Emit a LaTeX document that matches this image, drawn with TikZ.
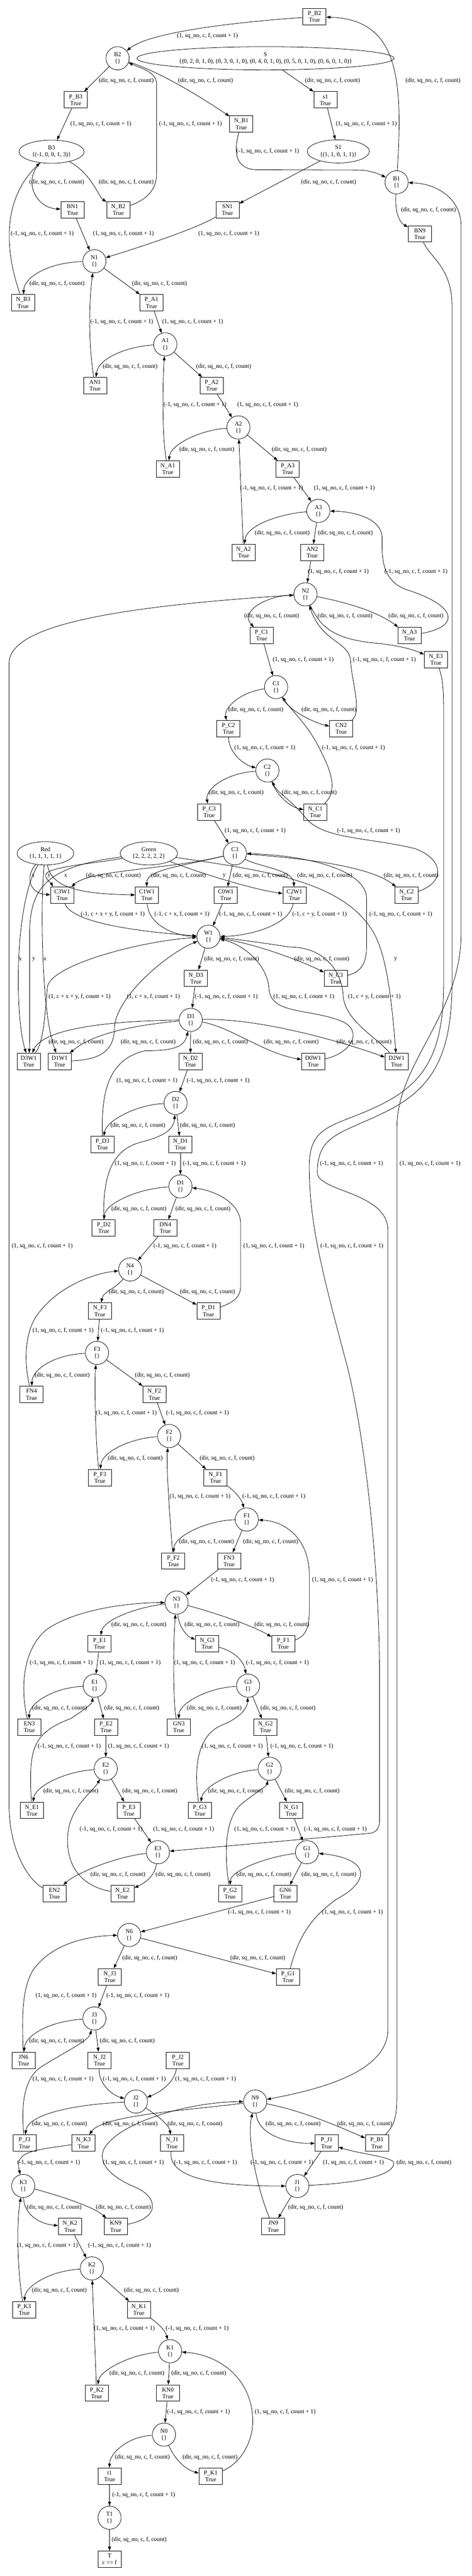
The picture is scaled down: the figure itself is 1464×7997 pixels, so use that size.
\documentclass[tikz,border=0pt]{standalone}
\usepackage{fontspec}
\setmainfont{Liberation Serif}
\usetikzlibrary{shapes.geometric,arrows.meta}
\newcommand\gvf{\fontsize{18.67pt}{21pt}\selectfont}
\newcommand\gvD{(dir, sq\_no, c, f, count)}
\newcommand\gvP{(1, sq\_no, c, f, count + 1)}
\newcommand\gvM{(-1, sq\_no, c, f, count + 1)}
\newcommand\gvXYM{(-1, c + x + y, f, count + 1)}
\newcommand\gvXM{(-1, c + x, f, count + 1)}
\newcommand\gvYM{(-1, c + y, f, count + 1)}
\newcommand\gvXYP{(1, c + x + y, f, count + 1)}
\newcommand\gvXP{(1, c + x, f, count + 1)}
\newcommand\gvYP{(1, c + y, f, count + 1)}
\newcommand\lbl[4]{\node[lb] (#1) at (#2,#3) {#4};}
\tikzset{
  pl/.style={ellipse, draw, line width=1.3pt, minimum width=72pt, minimum height=72pt, inner sep=0pt, align=center, font=\gvf},
  tr/.style={rectangle, draw, line width=1.3pt, minimum width=72pt, minimum height=51pt, inner sep=0pt, align=center, font=\gvf},
  lb/.style={inner sep=0pt, font=\gvf},
  ar/.style={line width=1.3pt, -{Triangle[length=13pt,width=9pt]}},
}
\begin{document}
\begin{tikzpicture}[x=1pt,y=-1pt]
\fill[white] (0,0) rectangle (1464,7997);
\useasboundingbox (0,0) rectangle (1464,7997);
% ---------------- places
\node[pl] (B2) at (365,181) {B2\\\{\}};
\node[pl,minimum width=798pt] (S) at (824,181) {S\\\{(0, 2, 0, 1, 0), (0, 3, 0, 1, 0), (0, 4, 0, 1, 0), (0, 5, 0, 1, 0), (0, 6, 0, 1, 0)\}};
\node[pl,minimum width=193pt] (S1) at (1050,470) {S1\\\{(1, 1, 0, 1, 1)\}};
\node[pl,minimum width=202pt] (B3) at (160,471) {B3\\\{(-1, 0, 0, 1, 3)\}};
\node[pl] (B1) at (1231,566) {B1\\\{\}};
\node[pl] (N1) at (293,811) {N1\\\{\}};
\node[pl] (A1) at (513,1069) {A1\\\{\}};
\node[pl] (A2) at (740,1327) {A2\\\{\}};
\node[pl] (A3) at (988,1586) {A3\\\{\}};
\node[pl] (N2) at (948,1845) {N2\\\{\}};
\node[pl] (C1) at (857,2133) {C1\\\{\}};
\node[pl] (C2) at (830,2392) {C2\\\{\}};
\node[pl] (C3) at (729,2649) {C3\\\{\}};
\node[pl,minimum width=176pt] (Red) at (141,2649) {Red\\\{1, 1, 1, 1, 1\}};
\node[pl,minimum width=178pt] (Green) at (462,2649) {Green\\\{2, 2, 2, 2, 2\}};
\node[pl] (W1) at (647,2908) {W1\\\{\}};
\node[pl] (D3) at (592,3166) {D3\\\{\}};
\node[pl] (D2) at (545,3424) {D2\\\{\}};
\node[pl] (D1) at (560,3683) {D1\\\{\}};
\node[pl] (N4) at (404,3941) {N4\\\{\}};
\node[pl] (F3) at (301,4200) {F3\\\{\}};
\node[pl] (F2) at (525,4458) {F2\\\{\}};
\node[pl] (F1) at (766,4717) {F1\\\{\}};
\node[pl] (N3) at (548,4975) {N3\\\{\}};
\node[pl] (E1) at (294,5233) {E1\\\{\}};
\node[pl] (G3) at (770,5233) {G3\\\{\}};
\node[pl] (E2) at (328,5491) {E2\\\{\}};
\node[pl] (G2) at (837,5491) {G2\\\{\}};
\node[pl] (E3) at (490,5750) {E3\\\{\}};
\node[pl] (G1) at (953,5750) {G1\\\{\}};
\node[pl] (N6) at (401,6007) {N6\\\{\}};
\node[pl] (J3) at (293,6266) {J3\\\{\}};
\node[pl] (J2) at (422,6524) {J2\\\{\}};
\node[pl] (N9) at (792,6524) {N9\\\{\}};
\node[pl] (K3) at (72,6786) {K3\\\{\}};
\node[pl] (J1) at (923,6786) {J1\\\{\}};
\node[pl] (K2) at (285,7042) {K2\\\{\}};
\node[pl] (K1) at (528,7299) {K1\\\{\}};
\node[pl] (N0) at (509,7558) {N0\\\{\}};
\node[pl] (T1) at (340,7816) {T1\\\{\}};
% ---------------- transitions
\node[tr] (PB2) at (976,52) {P\_B2\\True};
\node[tr] (PB3) at (235,310) {P\_B3\\True};
\node[tr] (s1) at (1010,310) {s1\\True};
\node[tr] (NB1) at (749,385) {N\_B1\\True};
\node[tr] (BN1) at (225,651) {BN1\\True};
\node[tr] (NB2) at (367,651) {N\_B2\\True};
\node[tr] (SN1) at (706,651) {SN1\\True};
\node[tr] (BN9) at (1303,726) {BN9\\True};
\node[tr] (NB3) at (72,940) {N\_B3\\True};
\node[tr] (PA1) at (470,940) {P\_A1\\True};
\node[tr] (AN1) at (295,1197) {AN1\\True};
\node[tr] (PA2) at (657,1197) {P\_A2\\True};
\node[tr] (NA1) at (521,1456) {N\_A1\\True};
\node[tr] (PA3) at (893,1456) {P\_A3\\True};
\node[tr] (NA2) at (756,1715) {N\_A2\\True};
\node[tr] (AN2) at (969,1715) {AN2\\True};
\node[tr] (PC1) at (812,1973) {P\_C1\\True};
\node[tr] (NA3) at (1271,1973) {N\_A3\\True};
\node[tr] (NE3) at (1353,2048) {N\_E3\\True};
\node[tr] (PC2) at (709,2262) {P\_C2\\True};
\node[tr] (CN2) at (1059,2262) {CN2\\True};
\node[tr] (PC3) at (649,2521) {P\_C3\\True};
\node[tr] (NC1) at (979,2521) {N\_C1\\True};
\node[tr] (C3W1) at (193,2779) {C3W1\\True};
\node[tr] (C1W1) at (456,2779) {C1W1\\True};
\node[tr] (C0W1) at (701,2779) {C0W1\\True};
\node[tr] (C2W1) at (914,2779) {C2W1\\True};
\node[tr] (NC2) at (1262,2779) {N\_C2\\True};
\node[tr] (ND3) at (608,3037) {N\_D3\\True};
\node[tr] (NC3) at (1042,3037) {N\_C3\\True};
\node[tr] (D3W1) at (89,3295) {D3W1\\True};
\node[tr] (D1W1) at (185,3295) {D1W1\\True};
\node[tr] (ND2) at (591,3295) {N\_D2\\True};
\node[tr] (D0W1) at (972,3295) {D0W1\\True};
\node[tr] (D2W1) at (1231,3295) {D2W1\\True};
\node[tr] (PD3) at (318,3553) {P\_D3\\True};
\node[tr] (ND1) at (560,3553) {N\_D1\\True};
\node[tr] (PD2) at (322,3812) {P\_D2\\True};
\node[tr] (DN4) at (513,3812) {DN4\\True};
\node[tr] (NF3) at (310,4070) {N\_F3\\True};
\node[tr] (PD1) at (647,4070) {P\_D1\\True};
\node[tr] (FN4) at (98,4329) {FN4\\True};
\node[tr] (NF2) at (479,4329) {N\_F2\\True};
\node[tr] (PF3) at (310,4587) {P\_F3\\True};
\node[tr] (NF1) at (669,4587) {N\_F1\\True};
\node[tr] (PF2) at (538,4846) {P\_F2\\True};
\node[tr] (FN3) at (711,4846) {FN3\\True};
\node[tr] (PE1) at (309,5103) {P\_E1\\True};
\node[tr] (NG3) at (643,5103) {N\_G3\\True};
\node[tr] (PF1) at (879,5103) {P\_F1\\True};
\node[tr] (EN3) at (91,5362) {EN3\\True};
\node[tr] (PE2) at (329,5362) {P\_E2\\True};
\node[tr] (GN3) at (555,5362) {GN3\\True};
\node[tr] (NG2) at (824,5362) {N\_G2\\True};
\node[tr] (NE1) at (99,5620) {N\_E1\\True};
\node[tr] (PE3) at (400,5620) {P\_E3\\True};
\node[tr] (PG3) at (620,5620) {P\_G3\\True};
\node[tr] (NG1) at (904,5620) {N\_G1\\True};
\node[tr] (EN2) at (169,5878) {EN2\\True};
\node[tr] (NE2) at (380,5878) {N\_E2\\True};
\node[tr] (PG2) at (714,5878) {P\_G2\\True};
\node[tr] (GN6) at (886,5878) {GN6\\True};
\node[tr] (NJ3) at (341,6137) {N\_J3\\True};
\node[tr] (PG1) at (894,6137) {P\_G1\\True};
\node[tr] (JN6) at (73,6396) {JN6\\True};
\node[tr] (NJ2) at (309,6396) {N\_J2\\True};
\node[tr] (PJ2) at (552,6396) {P\_J2\\True};
\node[tr] (PJ3) at (76,6653) {P\_J3\\True};
\node[tr] (NK3) at (259,6653) {N\_K3\\True};
\node[tr] (NJ1) at (534,6653) {N\_J1\\True};
\node[tr] (PJ1) at (1014,6653) {P\_J1\\True};
\node[tr] (PB1) at (1170,6653) {P\_B1\\True};
\node[tr] (NK2) at (217,6912) {N\_K2\\True};
\node[tr] (KN9) at (359,6912) {KN9\\True};
\node[tr] (JN9) at (848,6912) {JN9\\True};
\node[tr] (PK3) at (75,7170) {P\_K3\\True};
\node[tr] (NK1) at (431,7170) {N\_K1\\True};
\node[tr] (PK2) at (300,7429) {P\_K2\\True};
\node[tr] (KN0) at (521,7429) {KN0\\True};
\node[tr] (t1) at (340,7687) {t1\\True};
\node[tr] (PK1) at (654,7687) {P\_K1\\True};
\node[tr] (T) at (340,7945) {T\\c == f};
% ---------------- arcs: top
\draw[ar] (PB2) .. controls (780,65) and (470,95) .. (B2);
\draw[ar] (B2) -- (PB3);
\draw[ar] (B2) .. controls (470,215) and (560,260) .. (NB1);
\draw[ar] (S) -- (s1);
\draw[ar] (B1) .. controls (1250,250) and (1240,60) .. (PB2);
\draw[ar] (NB2) .. controls (440,625) and (486,600) .. (486,540) -- (486,260) .. controls (486,225) and (440,212) .. (B2);
\draw[ar] (PB3) -- (B3);
\draw[ar] (s1) -- (S1);
\draw[ar] (NB1) .. controls (722,480) and (735,527) .. (800,527) -- (1110,528) .. controls (1150,528) and (1175,540) .. (B1);
\draw[ar] (S1) -- (SN1);
\draw[ar] (B3) .. controls (70,560) and (110,645) .. (BN1);
\draw[ar] (B3) .. controls (285,540) and (305,610) .. (NB2);
\draw[ar] (B1) .. controls (1225,660) and (1240,690) .. (BN9);
\draw[ar] (BN1) -- (N1);
\draw[ar] (SN1) .. controls (610,710) and (440,765) .. (N1);
\draw[ar] (NB3) .. controls (15,780) and (5,620) .. (B3);
\draw[ar] (N1) .. controls (150,815) and (75,860) .. (NB3);
\draw[ar] (N1) -- (PA1);
\draw[ar] (AN1) .. controls (272,1050) and (278,920) .. (N1);
\draw[ar] (PA1) -- (A1);
\draw[ar] (A1) .. controls (400,1075) and (305,1110) .. (AN1);
\draw[ar] (A1) -- (PA2);
\draw[ar] (NA1) .. controls (502,1350) and (505,1180) .. (A1);
\draw[ar] (PA2) -- (A2);
\draw[ar] (A2) .. controls (620,1335) and (530,1380) .. (NA1);
\draw[ar] (A2) -- (PA3);
\draw[ar] (NA2) -- (A2);
\draw[ar] (PA3) -- (A3);
\draw[ar] (A3) .. controls (870,1595) and (765,1630) .. (NA2);
\draw[ar] (A3) -- (AN2);
\draw[ar] (AN2) -- (N2);
\draw[ar] (NA3) .. controls (1430,1945) and (1420,1880) .. (1260,1830) .. controls (1180,1800) and (1186,1720) .. (1186,1670) .. controls (1186,1610) and (1100,1588) .. (A3);
\draw[ar] (N2) .. controls (820,1850) and (745,1900) .. (PC1);
\draw[ar] (N2) .. controls (995,1950) and (1040,1985) .. (1170,1997) .. controls (1250,2005) and (1290,2020) .. (NE3);
\draw[ar] (N2) .. controls (1100,1875) and (1180,1905) .. (NA3);
\draw[ar] (PC1) -- (C1);
\draw[ar] (CN2) .. controls (1125,2210) and (1092,2120) .. (1088,2050) .. controls (1082,1990) and (1000,1995) .. (N2);
\draw[ar] (C1) .. controls (740,2150) and (695,2200) .. (PC2);
\draw[ar] (C1) .. controls (900,2210) and (980,2245) .. (CN2);
\draw[ar] (PC2) .. controls (710,2340) and (760,2375) .. (C2);
\draw[ar] (NC1) .. controls (1055,2450) and (1020,2380) .. (990,2320) .. controls (955,2250) and (900,2200) .. (C1);
\draw[ar] (C2) .. controls (700,2400) and (637,2450) .. (PC3);
\draw[ar] (C2) .. controls (860,2470) and (900,2505) .. (NC1);
\draw[ar] (PC3) -- (C3);
\draw[ar] (NC2) .. controls (1380,2740) and (1380,2670) .. (1290,2635) .. controls (1150,2600) and (1000,2605) .. (950,2540) .. controls (900,2480) and (860,2460) .. (C2);
% ---------------- C3 / W1 area
\draw[ar] (C3) .. controls (520,2700) and (280,2700) .. (C3W1);
\draw[ar] (C3) .. controls (560,2690) and (455,2700) .. (C1W1);
\draw[ar] (C3) -- (C0W1);
\draw[ar] (C3) .. controls (800,2690) and (910,2700) .. (C2W1);
\draw[ar] (C3) .. controls (950,2665) and (1150,2690) .. (NC2);
\draw[ar] (NC3) .. controls (1130,3015) and (1138,2980) .. (1138,2930) -- (1138,2790) .. controls (1138,2700) and (950,2655) .. (C3);
\draw[ar] (Red) .. controls (75,2725) and (95,2775) .. (C3W1);
\draw[ar] (Green) .. controls (300,2680) and (150,2690) .. (142,2715) .. controls (140,2730) and (158,2740) .. ([xshift=8pt]C3W1.north west);
\draw[ar] (Red) .. controls (160,2760) and (260,2775) .. (C1W1);
\draw[ar] (Green) .. controls (620,2710) and (780,2760) .. (C2W1);
\draw[ar] (Green) .. controls (800,2700) and (1050,2730) .. (1150,2880) .. controls (1200,2950) and (1215,3100) .. (D2W1);
\draw[ar] (Red) .. controls (45,2800) and (45,3150) .. (D3W1);
\draw[ar] (Green) .. controls (150,2690) and (92,2750) .. (92,2900) -- (92,3150) .. controls (92,3210) and (92,3240) .. (D3W1);
\draw[ar] (Red) .. controls (125,2800) and (128,3150) .. (D1W1);
\draw[ar] (C3W1) .. controls (220,2860) and (400,2890) .. (W1);
\draw[ar] (C1W1) .. controls (460,2870) and (540,2905) .. (W1);
\draw[ar] (C0W1) -- (W1);
\draw[ar] (C2W1) .. controls (900,2870) and (780,2905) .. (W1);
\draw[ar] (W1) -- (ND3);
\draw[ar] (W1) .. controls (800,2930) and (950,2990) .. (NC3);
\draw[ar] (ND3) -- (D3);
\draw[ar] (D3W1) .. controls (140,3230) and (140,3120) .. (148,3060) .. controls (170,2990) and (450,2920) .. (W1);
\draw[ar] (D1W1) .. controls (300,3290) and (350,3270) .. (355,3200) .. controls (350,3100) and (520,2960) .. (W1);
\draw[ar] (D0W1) .. controls (1090,3270) and (1130,3200) .. (1060,3170) .. controls (960,3130) and (840,3150) .. (835,3070) .. controls (830,2990) and (750,2930) .. (W1);
\draw[ar] (D2W1) .. controls (1170,3220) and (1070,3170) .. (1065,3090) .. controls (1062,3020) and (1010,2940) .. (900,2940) .. controls (800,2925) and (730,2915) .. (W1);
\draw[ar] (D3) .. controls (300,3170) and (130,3200) .. (D3W1);
\draw[ar] (D3) .. controls (450,3180) and (300,3200) .. (D1W1);
\draw[ar] (D3) -- (ND2);
\draw[ar] (D3) .. controls (720,3190) and (820,3270) .. (D0W1);
\draw[ar] (D3) .. controls (800,3160) and (1050,3230) .. (D2W1);
% ---------------- D / F area
\draw[ar] (ND2) -- (D2);
\draw[ar] (PD3) .. controls (315,3400) and (330,3290) .. (450,3262) .. controls (540,3262) and (572,3250) .. (D3);
\draw[ar] (D2) .. controls (420,3430) and (330,3480) .. (PD3);
\draw[ar] (D2) -- (ND1);
\draw[ar] (ND1) -- (D1);
\draw[ar] (PD2) .. controls (320,3660) and (340,3570) .. (440,3545) .. controls (520,3525) and (540,3500) .. (D2);
\draw[ar] (D1) .. controls (420,3690) and (325,3740) .. (PD2);
\draw[ar] (D1) -- (DN4);
\draw[ar] (DN4) -- (N4);
\draw[ar] (PD1) .. controls (735,4040) and (747,4020) .. (747,3990) -- (747,3800) .. controls (747,3730) and (660,3695) .. (D1);
\draw[ar] (N4) .. controls (360,4000) and (320,4010) .. (NF3);
\draw[ar] (N4) -- (PD1);
\draw[ar] (FN4) .. controls (72,4220) and (80,4140) .. (110,4090) .. controls (170,4000) and (280,3955) .. (N4);
\draw[ar] (NF3) -- (F3);
\draw[ar] (F3) .. controls (170,4205) and (100,4250) .. (FN4);
\draw[ar] (F3) -- (NF2);
\draw[ar] (PF3) .. controls (298,4500) and (292,4300) .. (F3);
\draw[ar] (NF2) -- (F2);
\draw[ar] (F2) .. controls (400,4465) and (315,4510) .. (PF3);
\draw[ar] (F2) -- (NF1);
\draw[ar] (PF2) .. controls (530,4750) and (515,4550) .. (F2);
\draw[ar] (NF1) .. controls (730,4630) and (750,4655) .. (F1);
\draw[ar] (F1) .. controls (640,4720) and (540,4770) .. (PF2);
\draw[ar] (F1) -- (FN3);
\draw[ar] (FN3) -- (N3);
\draw[ar] (PF1) .. controls (950,5080) and (960,5050) .. (960,5000) -- (960,4880) .. controls (955,4770) and (880,4722) .. (F1);
% ---------------- N3 / E / G area
\draw[ar] (N3) .. controls (420,4990) and (320,5030) .. (PE1);
\draw[ar] (N3) .. controls (555,5050) and (580,5080) .. (NG3);
\draw[ar] (N3) .. controls (680,5010) and (790,5050) .. (PF1);
\draw[ar] (EN3) .. controls (60,5230) and (75,5110) .. (150,5055) .. controls (250,4990) and (420,4975) .. (N3);
\draw[ar] (PE1) -- (E1);
\draw[ar] (GN3) .. controls (537,5300) and (537,5100) .. (N3);
\draw[ar] (NG3) .. controls (720,5125) and (755,5150) .. (G3);
\draw[ar] (E1) .. controls (160,5240) and (90,5290) .. (EN3);
\draw[ar] (E1) -- (PE2);
\draw[ar] (G3) .. controls (640,5240) and (555,5290) .. (GN3);
\draw[ar] (G3) -- (NG2);
\draw[ar] (NE1) .. controls (88,5430) and (100,5380) .. (220,5335) .. controls (265,5305) and (285,5290) .. (E1);
\draw[ar] (PE2) -- (E2);
\draw[ar] (PG3) .. controls (600,5480) and (615,5385) .. (690,5355) .. controls (750,5330) and (768,5300) .. (G3);
\draw[ar] (NG2) -- (G2);
\draw[ar] (E2) .. controls (200,5500) and (110,5545) .. (NE1);
\draw[ar] (E2) -- (PE3);
\draw[ar] (G2) .. controls (710,5500) and (630,5550) .. (PG3);
\draw[ar] (G2) -- (NG1);
\draw[ar] (NE2) .. controls (250,5855) and (205,5790) .. (210,5700) .. controls (215,5610) and (290,5560) .. (E2);
\draw[ar] (PE3) -- (E3);
\draw[ar] (PG2) .. controls (700,5780) and (690,5650) .. (750,5600) .. controls (800,5560) and (828,5545) .. (G2);
\draw[ar] (NG1) -- (G1);
\draw[ar] (E3) .. controls (350,5765) and (230,5820) .. (EN2);
\draw[ar] (E3) .. controls (480,5830) and (440,5850) .. (NE2);
\draw[ar] (G1) .. controls (820,5765) and (715,5810) .. (PG2);
\draw[ar] (G1) -- (GN6);
\draw[ar] (GN6) -- (N6);
\draw[ar] (PG1) .. controls (925,6020) and (960,5955) .. (1046,5895) .. controls (1150,5840) and (1150,5770) .. (G1);
\draw[ar] (N6) -- (NJ3);
\draw[ar] (N6) -- (PG1);
% ---------------- J / K area
\draw[ar] (JN6) .. controls (68,6260) and (68,6180) .. (100,6120) .. controls (160,6030) and (280,6010) .. (N6);
\draw[ar] (NJ3) -- (J3);
\draw[ar] (J3) .. controls (150,6275) and (78,6320) .. (JN6);
\draw[ar] (J3) -- (NJ2);
\draw[ar] (PJ3) .. controls (65,6530) and (75,6450) .. (130,6415) .. controls (210,6365) and (275,6335) .. (J3);
\draw[ar] (NJ2) .. controls (305,6470) and (350,6505) .. (J2);
\draw[ar] (PJ2) .. controls (540,6470) and (490,6498) .. (J2);
\draw[ar] (J2) .. controls (200,6535) and (85,6570) .. (PJ3);
\draw[ar] (J2) .. controls (500,6575) and (525,6600) .. (NJ1);
\draw[ar] (N9) .. controls (600,6550) and (320,6565) .. (NK3);
\draw[ar] (N9) .. controls (800,6630) and (900,6655) .. (PJ1);
\draw[ar] (N9) .. controls (950,6555) and (1070,6610) .. (PB1);
\draw[ar] (KN9) .. controls (500,6885) and (490,6820) .. (420,6790) .. controls (335,6755) and (295,6705) .. (330,6660) .. controls (390,6580) and (600,6525) .. (N9);
\draw[ar] (NJ1) .. controls (520,6770) and (700,6787) .. (J1);
\draw[ar] (JN9) .. controls (800,6800) and (765,6640) .. (N9);
\draw[ar] (PJ1) -- (J1);
\draw[ar] (J1) .. controls (1150,6775) and (1228,6745) .. (1222,6712) .. controls (1210,6695) and (1110,6685) .. (PJ1);
\draw[ar] (NK3) .. controls (100,6675) and (45,6680) .. (K3);
\draw[ar] (K3) .. controls (75,6880) and (130,6905) .. (NK2);
\draw[ar] (K3) .. controls (180,6815) and (290,6850) .. (KN9);
\draw[ar] (J1) -- (JN9);
\draw[ar] (PK3) .. controls (55,7060) and (50,6900) .. (K3);
\draw[ar] (NK2) -- (K2);
\draw[ar] (K2) .. controls (150,7050) and (78,7100) .. (PK3);
\draw[ar] (K2) -- (NK1);
\draw[ar] (PK2) -- (K2);
\draw[ar] (NK1) .. controls (500,7220) and (515,7240) .. (K1);
\draw[ar] (K1) .. controls (400,7310) and (310,7360) .. (PK2);
\draw[ar] (K1) -- (KN0);
\draw[ar] (KN0) -- (N0);
\draw[ar] (PK1) .. controls (760,7640) and (790,7560) .. (784,7500) .. controls (775,7380) and (680,7310) .. (K1);
\draw[ar] (N0) .. controls (390,7565) and (340,7620) .. (t1);
\draw[ar] (N0) .. controls (545,7640) and (580,7668) .. (PK1);
\draw[ar] (t1) -- (T1);
\draw[ar] (T1) -- (T);
% ---------------- long arcs
\draw[ar] (PB1) .. controls (1222,6600) and (1232,6580) .. (1232,6500) -- (1232,3500) .. controls (1232,3300) and (1431,3150) .. (1431,2900) -- (1431,700) .. controls (1431,620) and (1360,570) .. (B1);
\draw[ar] (BN9) .. controls (1335,800) and (1403,830) .. (1403,950) -- (1403,3050) .. controls (1403,3280) and (1340,3380) .. (1200,3450) .. controls (1060,3520) and (985,3520) .. (985,3640) .. controls (985,3700) and (1204,3700) .. (1204,3820) -- (1204,6300) .. controls (1204,6430) and (1000,6485) .. (N9);
\draw[ar] (NE3) .. controls (1372,2100) and (1377,2130) .. (1377,2200) -- (1377,3050) .. controls (1377,3250) and (1330,3350) .. (1200,3420) .. controls (1050,3500) and (960,3480) .. (960,3620) .. controls (960,3800) and (1000,3950) .. (1080,4250) .. controls (1140,4500) and (1178,4900) .. (1178,5200) -- (1178,5650) .. controls (1178,5680) and (1165,5688) .. (1150,5691) -- (E3);
\draw[ar] (EN2) .. controls (100,5845) and (28,5760) .. (28,5600) -- (28,2060) .. controls (28,1960) and (250,1890) .. (N2);
% ---------------- labels
\lbl{L1}{644}{112}{\gvP}
\lbl{L2}{392}{251}{\gvD}
\lbl{L3}{638}{251}{\gvD}
\lbl{L4}{1032}{251}{\gvD}
\lbl{L5}{1344}{251}{\gvD}
\lbl{L6}{591}{385}{\gvM}
\lbl{L7}{313}{385}{\gvP}
\lbl{L8}{1137}{385}{\gvP}
\lbl{L9}{831}{470}{\gvM}
\lbl{L10}{1020}{566}{\gvD}
\lbl{L11}{176}{566}{\gvD}
\lbl{L12}{392}{566}{\gvD}
\lbl{L13}{1330}{652}{\gvD}
\lbl{L14}{383}{725}{\gvP}
\lbl{L15}{710}{725}{\gvP}
\lbl{L16}{131}{725}{\gvM}
\lbl{L17}{177}{881}{\gvD}
\lbl{L18}{495}{881}{\gvD}
\lbl{L19}{378}{999}{\gvM}
\lbl{L20}{598}{999}{\gvP}
\lbl{L21}{404}{1138}{\gvD}
\lbl{L22}{694}{1138}{\gvD}
\lbl{L23}{605}{1257}{\gvM}
\lbl{L24}{831}{1257}{\gvP}
\lbl{L25}{642}{1396}{\gvD}
\lbl{L26}{929}{1396}{\gvD}
\lbl{L27}{843}{1516}{\gvM}
\lbl{L28}{1069}{1516}{\gvP}
\lbl{L29}{876}{1655}{\gvD}
\lbl{L30}{1072}{1655}{\gvD}
\lbl{L31}{1050}{1774}{\gvP}
\lbl{L32}{1291}{1774}{\gvM}
\lbl{L33}{843}{1912}{\gvD}
\lbl{L34}{1071}{1912}{\gvD}
\lbl{L35}{1291}{1912}{\gvD}
\lbl{L36}{941}{2048}{\gvP}
\lbl{L37}{1193}{2048}{\gvM}
\lbl{L38}{794}{2203}{\gvD}
\lbl{L39}{1021}{2203}{\gvD}
\lbl{L40}{822}{2321}{\gvP}
\lbl{L41}{1097}{2321}{\gvM}
\lbl{L42}{733}{2461}{\gvD}
\lbl{L43}{960}{2461}{\gvD}
\lbl{L44}{792}{2580}{\gvP}
\lbl{L45}{1144}{2580}{\gvM}
\lbl{L46}{352}{2719}{\gvD}
\lbl{L47}{554}{2719}{\gvD}
\lbl{L48}{808}{2719}{\gvD}
\lbl{L49}{1008}{2719}{\gvD}
\lbl{L50}{1276}{2719}{\gvD}
\lbl{L51}{103}{2719}{x}
\lbl{L52}{152}{2719}{y}
\lbl{L53}{204}{2719}{x}
\lbl{L54}{696}{2719}{y}
\lbl{L55}{350}{2838}{\gvXYM}
\lbl{L56}{565}{2838}{\gvXM}
\lbl{L57}{778}{2838}{\gvM}
\lbl{L58}{992}{2838}{\gvYM}
\lbl{L59}{1244}{2838}{\gvM}
\lbl{L60}{63}{2978}{x}
\lbl{L61}{105}{2978}{y}
\lbl{L62}{140}{2978}{x}
\lbl{L63}{719}{2978}{\gvD}
\lbl{L64}{999}{2978}{\gvD}
\lbl{L65}{1228}{2978}{y}
\lbl{L66}{247}{3095}{\gvXYP}
\lbl{L67}{476}{3095}{\gvXP}
\lbl{L68}{702}{3095}{\gvM}
\lbl{L69}{943}{3095}{\gvP}
\lbl{L70}{1162}{3095}{\gvYP}
\lbl{L71}{236}{3235}{\gvD}
\lbl{L72}{460}{3235}{\gvD}
\lbl{L73}{684}{3235}{\gvD}
\lbl{L74}{904}{3235}{\gvD}
\lbl{L75}{1130}{3235}{\gvD}
\lbl{L76}{456}{3355}{\gvP}
\lbl{L77}{677}{3355}{\gvM}
\lbl{L78}{428}{3494}{\gvD}
\lbl{L79}{644}{3494}{\gvD}
\lbl{L80}{451}{3612}{\gvP}
\lbl{L81}{665}{3612}{\gvM}
\lbl{L82}{1091}{3612}{\gvM}
\lbl{L83}{1335}{3612}{\gvP}
\lbl{L84}{431}{3753}{\gvD}
\lbl{L85}{630}{3753}{\gvD}
\lbl{L86}{131}{3869}{\gvP}
\lbl{L87}{574}{3869}{\gvM}
\lbl{L88}{850}{3869}{\gvP}
\lbl{L89}{1092}{3869}{\gvM}
\lbl{L90}{423}{4011}{\gvD}
\lbl{L91}{644}{4011}{\gvD}
\lbl{L92}{196}{4130}{\gvP}
\lbl{L93}{411}{4130}{\gvM}
\lbl{L94}{193}{4269}{\gvD}
\lbl{L95}{504}{4269}{\gvD}
\lbl{L96}{392}{4387}{\gvP}
\lbl{L97}{613}{4387}{\gvM}
\lbl{L98}{420}{4528}{\gvD}
\lbl{L99}{705}{4528}{\gvD}
\lbl{L100}{621}{4646}{\gvP}
\lbl{L101}{850}{4646}{\gvM}
\lbl{L102}{641}{4786}{\gvD}
\lbl{L103}{840}{4786}{\gvD}
\lbl{L104}{753}{4904}{\gvM}
\lbl{L105}{1063}{4904}{\gvP}
\lbl{L106}{431}{5044}{\gvD}
\lbl{L107}{658}{5044}{\gvD}
\lbl{L108}{875}{5044}{\gvD}
\lbl{L109}{190}{5163}{\gvM}
\lbl{L110}{404}{5163}{\gvP}
\lbl{L111}{635}{5163}{\gvP}
\lbl{L112}{861}{5163}{\gvM}
\lbl{L113}{185}{5303}{\gvD}
\lbl{L114}{409}{5303}{\gvD}
\lbl{L115}{665}{5303}{\gvD}
\lbl{L116}{894}{5303}{\gvD}
\lbl{L117}{215}{5421}{\gvM}
\lbl{L118}{430}{5421}{\gvP}
\lbl{L119}{721}{5421}{\gvP}
\lbl{L120}{937}{5421}{\gvM}
\lbl{L121}{220}{5560}{\gvD}
\lbl{L122}{465}{5560}{\gvD}
\lbl{L123}{731}{5560}{\gvD}
\lbl{L124}{969}{5560}{\gvD}
\lbl{L125}{345}{5679}{\gvM}
\lbl{L126}{570}{5679}{\gvP}
\lbl{L127}{822}{5679}{\gvP}
\lbl{L128}{1041}{5679}{\gvM}
\lbl{L129}{366}{5819}{\gvD}
\lbl{L130}{568}{5819}{\gvD}
\lbl{L131}{819}{5819}{\gvD}
\lbl{L132}{1021}{5819}{\gvD}
\lbl{L133}{805}{5937}{\gvM}
\lbl{L134}{1094}{5937}{\gvP}
\lbl{L135}{465}{6078}{\gvD}
\lbl{L136}{800}{6078}{\gvD}
\lbl{L137}{205}{6196}{\gvP}
\lbl{L138}{428}{6196}{\gvM}
\lbl{L139}{176}{6336}{\gvD}
\lbl{L140}{395}{6336}{\gvD}
\lbl{L141}{196}{6455}{\gvP}
\lbl{L142}{417}{6455}{\gvM}
\lbl{L143}{638}{6455}{\gvP}
\lbl{L144}{185}{6594}{\gvD}
\lbl{L145}{404}{6594}{\gvD}
\lbl{L146}{605}{6594}{\gvD}
\lbl{L147}{910}{6594}{\gvD}
\lbl{L148}{1132}{6594}{\gvD}
\lbl{L149}{151}{6713}{\gvM}
\lbl{L150}{414}{6713}{\gvP}
\lbl{L151}{638}{6713}{\gvM}
\lbl{L152}{875}{6713}{\gvM}
\lbl{L153}{1097}{6713}{\gvP}
\lbl{L154}{1316}{6713}{\gvD}
\lbl{L155}{168}{6852}{\gvD}
\lbl{L156}{383}{6852}{\gvD}
\lbl{L157}{980}{6852}{\gvD}
\lbl{L158}{147}{6971}{\gvP}
\lbl{L159}{371}{6971}{\gvM}
\lbl{L160}{184}{7110}{\gvD}
\lbl{L161}{470}{7110}{\gvD}
\lbl{L162}{386}{7229}{\gvP}
\lbl{L163}{612}{7229}{\gvM}
\lbl{L164}{425}{7368}{\gvD}
\lbl{L165}{617}{7368}{\gvD}
\lbl{L166}{616}{7487}{\gvM}
\lbl{L167}{885}{7487}{\gvP}
\lbl{L168}{442}{7628}{\gvD}
\lbl{L169}{652}{7628}{\gvD}
\lbl{L170}{446}{7745}{\gvM}
\lbl{L171}{432}{7885}{\gvD}
\end{tikzpicture}
\end{document}
